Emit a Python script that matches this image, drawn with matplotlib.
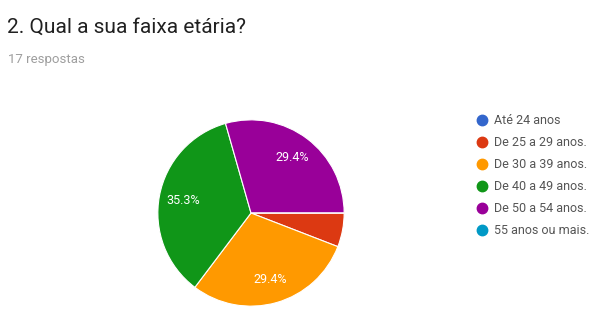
import matplotlib.pyplot as plt
from matplotlib.lines import Line2D

plt.rcParams["font.family"] = ["Roboto", "DejaVu Sans"]

# Data
categories = [
    "Até 24 anos",
    "De 25 a 29 anos.",
    "De 30 a 39 anos.",
    "De 40 a 49 anos.",
    "De 50 a 54 anos.",
    "55 anos ou mais.",
]
counts = [0, 1, 5, 6, 5, 0]
colors = ["#3366cc", "#dc3912", "#ff9900", "#109618", "#990099", "#0099c6"]

W, H = 592, 314
fig = plt.figure(figsize=(W / 100, H / 100), dpi=100)
fig.patch.set_facecolor("white")

fig.text(7 / W, 1 - 27 / H, "2. Qual a sua faixa etária?", fontsize=15,
         color="#212121", va="center", ha="left")
fig.text(8 / W, 1 - 59 / H, "17 respostas", fontsize=9.5,
         color="#9e9e9e", va="center", ha="left")

# pie axes: center (251, 213), radius 95 px
cx, cy, r = 251, 213, 95
ax = fig.add_axes([(cx - r) / W, (H - cy - r) / H, 2 * r / W, 2 * r / H])


def fmt(p):
    return f"{p:.1f}%" if p > 8 else ""


wedges, texts, autotexts = ax.pie(
    counts,
    colors=colors,
    startangle=0,
    counterclock=False,
    autopct=fmt,
    pctdistance=0.74,
    wedgeprops=dict(edgecolor="white", linewidth=0.8),
    textprops=dict(color="white", fontsize=9),
)
ax.set_xlim(-1.02, 1.02)
ax.set_ylim(-1.02, 1.02)
ax.axis("off")

handles = [
    Line2D([], [], marker="o", linestyle="none", markersize=7.5,
           markerfacecolor=c, markeredgecolor=c)
    for c in colors
]
leg = fig.legend(
    handles,
    categories,
    loc="upper left",
    bbox_to_anchor=(474 / W, 1 - 114 / H),
    frameon=False,
    fontsize=9,
    labelspacing=0.72,
    handletextpad=0.4,
    handlelength=1.2,
    borderaxespad=0,
    borderpad=0,
)
for t in leg.get_texts():
    t.set_color("#555555")

fig.savefig("out.png", dpi=100, facecolor="white")
